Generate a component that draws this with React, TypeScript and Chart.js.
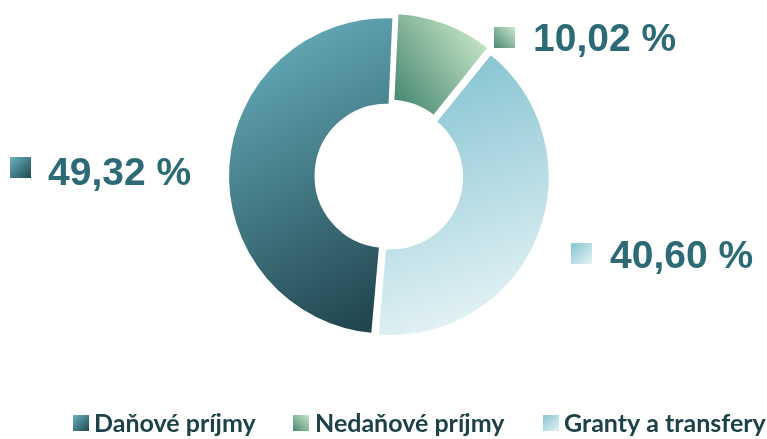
import React, { useEffect, useRef } from "react";
import { Chart, registerables } from "chart.js";

Chart.register(...registerables);

const categories = ["Daňové príjmy", "Nedaňové príjmy", "Granty a transfery"];
const values = [49.32, 10.02, 40.6];
const valueLabels = ["49,32 %", "10,02 %", "40,60 %"];

// styling (not data)
const sliceOffsets = [5, 16, 12];
const labelPos = [
  { mx: 10, my: 157, tx: 48, ty: 185 },
  { mx: 494, my: 27, tx: 533, ty: 51 },
  { mx: 571, my: 243, tx: 610, ty: 268 },
];
const legendPos = [
  { mx: 73, tx: 94 },
  { mx: 293, tx: 315 },
  { mx: 543, tx: 564 },
];

// gradient stops relative to centre, in units of radius
const sliceGrad = [
  { a: [-0.9, -0.9], b: [0.1, 1.0], c0: "#67b0be", c1: "#1b3d45" },
  { a: [0.6, -0.85], b: [0.05, -0.45], c0: "#c8e6c6", c1: "#4a8a74" },
  { a: [0.4, -0.7], b: [0.9, 0.8], c0: "#88c5d2", c1: "#e4f2f5" },
];
const markerGrad = [
  { a: [0, 0], b: [1, 1], c0: "#6ab3c1", c1: "#1f4850" },
  { a: [1, 0], b: [0, 1], c0: "#c8e6c8", c1: "#4a8a74" },
  { a: [0, 0], b: [1, 1], c0: "#86c4d1", c1: "#e6f3f5" },
];

function markerFill(ctx: CanvasRenderingContext2D, i: number, x: number, y: number, s: number) {
  const g = markerGrad[i];
  const grad = ctx.createLinearGradient(x + g.a[0] * s, y + g.a[1] * s, x + g.b[0] * s, y + g.b[1] * s);
  grad.addColorStop(0, g.c0);
  grad.addColorStop(1, g.c1);
  ctx.fillStyle = grad;
  ctx.fillRect(x, y, s, s);
}

const labelsPlugin = {
  id: "customLabels",
  afterDraw(chart: any) {
    const ctx: CanvasRenderingContext2D = chart.ctx;
    ctx.save();
    ctx.font = "bold 39px 'Liberation Sans', Arial, sans-serif";
    ctx.textBaseline = "alphabetic";
    ctx.textAlign = "left";
    valueLabels.forEach((t, i) => {
      const p = labelPos[i];
      markerFill(ctx, i, p.mx, p.my, 21);
      ctx.fillStyle = "#2c6a75";
      ctx.fillText(t, p.tx, p.ty);
    });
    ctx.font = "bold 25px Lato, 'Open Sans', sans-serif";
    categories.forEach((t, i) => {
      const p = legendPos[i];
      markerFill(ctx, i, p.mx, 415, 16);
      ctx.fillStyle = "#1c4149";
      ctx.fillText(t, p.tx, 432);
    });
    ctx.restore();
  },
};

export default function App() {
  const ref = useRef<HTMLCanvasElement | null>(null);
  useEffect(() => {
    if (!ref.current) return;
    const chart = new Chart(ref.current, {
      type: "doughnut",
      data: {
        labels: categories,
        datasets: [
          {
            data: values,
            borderWidth: 3,
            borderColor: "#ffffff",
            offset: sliceOffsets,
            backgroundColor: (c: any) => {
              const ch = c.chart;
              const a = ch.chartArea;
              const g = sliceGrad[c.dataIndex];
              if (!g) return "#ccc";
              if (!a) return g.c0;
              const cx = (a.left + a.right) / 2;
              const cy = (a.top + a.bottom) / 2;
              const R = (Math.min(a.right - a.left, a.bottom - a.top) - 16) / 2;
              const grad = ch.ctx.createLinearGradient(
                cx + g.a[0] * R,
                cy + g.a[1] * R,
                cx + g.b[0] * R,
                cy + g.b[1] * R
              );
              grad.addColorStop(0, g.c0);
              grad.addColorStop(1, g.c1);
              return grad;
            },
          } as any,
        ],
      },
      options: {
        responsive: false,
        animation: false,
        rotation: 185,
        cutout: "44%",
        layout: { padding: { top: 8.5, bottom: 95.5, left: 9, right: 0 } },
        plugins: {
          legend: { display: false },
          tooltip: { enabled: false },
        },
      },
      plugins: [labelsPlugin],
    });
    return () => chart.destroy();
  }, []);
  return (
    <div style={{ position: "fixed", left: 0, top: 0, width: 767, height: 439, background: "#fff" }}>
      <canvas ref={ref} width={767} height={439} style={{ width: 767, height: 439, display: "block" }} />
    </div>
  );
}
